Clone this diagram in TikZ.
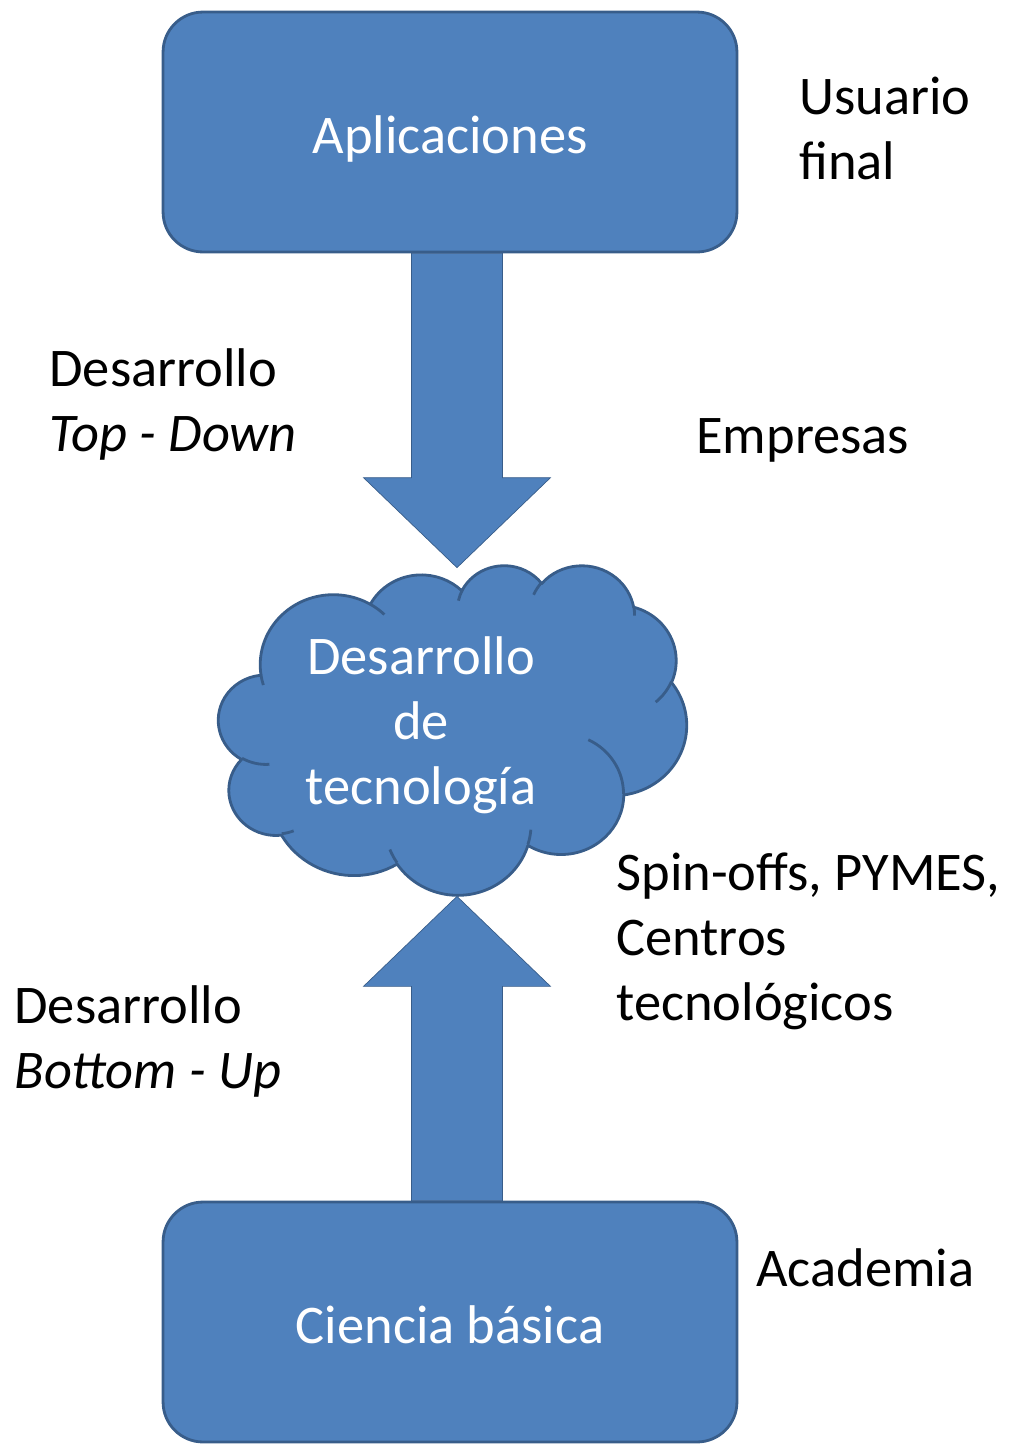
\documentclass[tikz,border=0pt]{standalone}
\usepackage{fontspec}
\setsansfont{Carlito}
\usetikzlibrary{calc, backgrounds}
\definecolor{cfill}{HTML}{4F81BD}
\definecolor{cedge}{HTML}{385D8A}
\tikzset{
  every picture/.style={font=\sffamily\fontsize{31}{37}\selectfont, line width=1.6pt},
  block/.style={draw=cedge, fill=cfill, rounded corners=0.8cm, text=white, minimum width=11.48cm, minimum height=4.8cm, text height=31pt, text depth=6.5pt},
  puffline/.style={draw=cedge, line join=round},
  fatarrow/.style={draw=cedge, fill=cfill, line join=miter},
  side/.style={align=left, inner sep=0pt, anchor=west},
  % elliptic arc whose angles are seen angles, not parameters
  puff/.style n args={4}{x radius=#1, y radius=#2,
    start angle={atan2(#1*sin(#3),#2*cos(#3))},
    delta angle={mod(atan2(#1*sin(#3+#4),#2*cos(#3+#4))-atan2(#1*sin(#3),#2*cos(#3))+720,360)}},
}
% block arrow from #1 (base) to #2 (tip)
\newcommand{\blockarrow}[2]{%
  \draw[fatarrow] let \p1=(#1), \p2=(#2), \p3=($(#2)!1.8cm!(#1)$) in
    (\x1-0.91cm,\y1) -- (\x3-0.91cm,\y3) -- (\x3-1.87cm,\y3) -- (\p2)
    -- (\x3+1.87cm,\y3) -- (\x3+0.91cm,\y3) -- (\x1+0.91cm,\y1) -- cycle;}

\begin{document}
\begin{tikzpicture}[x=0.02cm, y=-0.02cm]
  \useasboundingbox (0,0) rectangle (1010,1448);
  % the two levels
  \node[block] (app) at (450,132) {Aplicaciones};
  \node[block] (sci) at (450,1322) {Ciencia básica};
  % the cloud between them
  \node[minimum width=9.34cm, minimum height=6.62cm, inner sep=0pt] (cloud) at (453.5,731.5) {};
  \begin{scope}[shift={(cloud.north west)}, x=0.0021620cm, y=-0.0015324cm]
    \fill[cfill, puffline] (390,1437)
      foreach \a/\b/\s/\w in {675.3/919.0/-190.4875/123.7805, 533.3/726.7/-144.1024/89.9452,
        436.5/594.5/-145.8079/99.7230, 485.7/659.5/-130.9861/117.2417, 533.3/727.3/-78.7089/109.0269,
        677.5/922.0/-46.2673/130.2690, 578.5/786.7/0.6250/114.0333, 675.2/921.5/22.4516/115.1726,
        772.0/1054.3/66.2426/75.7110, 436.0/591.8/-274.9421/146.7356, 434.5/594.5/-246.8285/152.5189}
      { arc[puff={\a}{\b}{\s}{\w}] } -- cycle;
    \draw[puffline]
      foreach \px/\py/\a/\b/\s/\w in {469.3/2617.7/434.5/594.5/86.7420/26.4295,
        692.8/3489.9/436.0/591.8/73.6105/11.4475, 1647.8/3909.0/675.2/921.5/137.6242/14.0811,
        2882.7/3475.1/675.2/921.5/6.4533/15.9984, 3412.9/2295.4/578.5/786.7/-70.2924/70.9174,
        4179.8/1535.4/533.3/727.3/30.3180/27.7515, 3832.4/542.6/485.7/659.5/-13.7443/14.8589,
        2907.8/395.2/485.7/659.5/-149.1815/18.1954, 2214.1/472.0/436.5/594.5/-163.4943/17.6864,
        1400.0/519.2/675.3/919.0/-66.7070/12.3194, 412.7/1578.9/675.3/919.0/157.6544/11.8582}
      { (\px,\py) arc[puff={\a}{\b}{\s}{\w}] };
  \end{scope}
  \node[text=white, align=center, inner sep=0pt] (cloudtxt) at (421,725) {Desarrollo\\de\\tecnología};
  \coordinate (dtip) at ($(cloud.north)+(3.5,3)$);
  \coordinate (utip) at ($(cloud.south)+(3.5,-2)$);
  % the two flows
  \begin{scope}[on background layer]
    \blockarrow{app.south -| dtip}{dtip}
    \blockarrow{sci.north -| utip}{utip}
  \end{scope}
  % who stands at each level
  \node[side] (user) at (798,128) {Usuario\\final};
  \node[side] (topdown) at (48,404) {Desarrollo\\\textit{Top - Down}};
  \node[side] (firms) at (695,440) {Empresas};
  \node[side] (spin) at (615,941) {Spin-offs, PYMES,\\Centros\\tecnológicos};
  \node[side] (bottomup) at (13,1041) {Desarrollo\\\textit{Bottom - Up}};
  \node[side] (acad) at (755,1268) {Academia};
\end{tikzpicture}
\end{document}
